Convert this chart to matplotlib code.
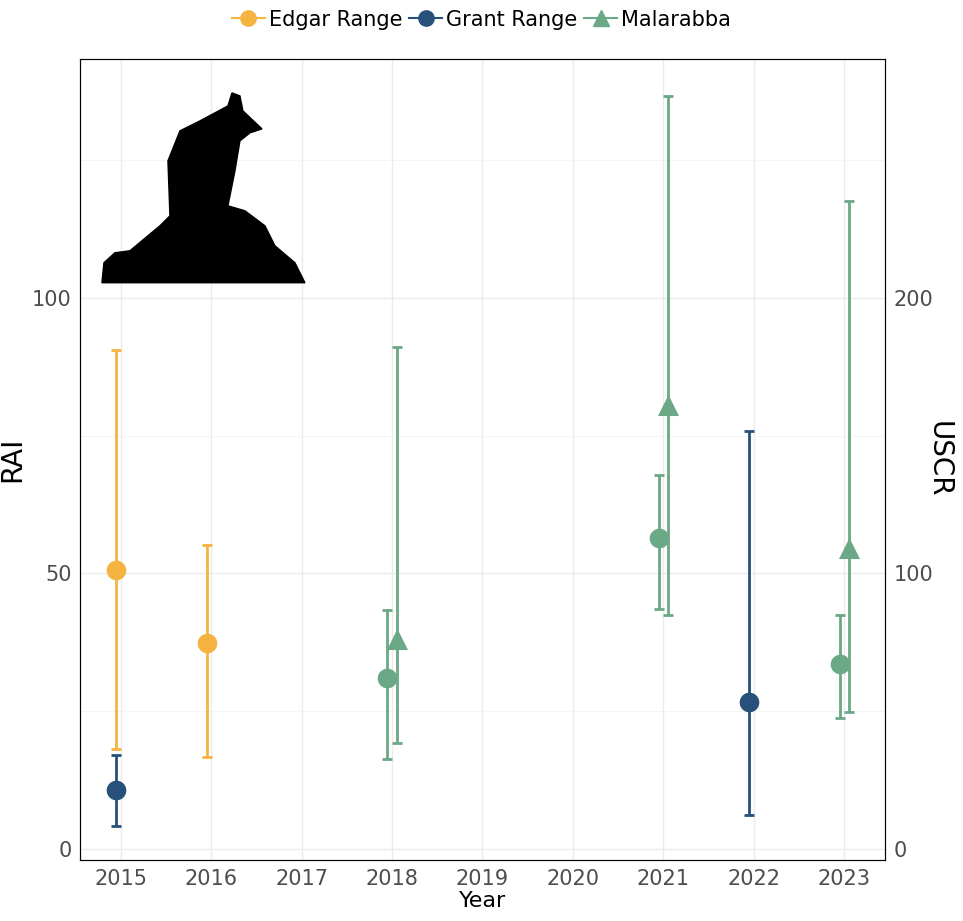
import numpy as np
import matplotlib.pyplot as plt
from matplotlib.lines import Line2D
from matplotlib.patches import Polygon

# RAI (left axis), circles
edgar_year = [2015, 2016]
edgar_rai = [50.7, 37.3]
edgar_lo = [18.1, 16.8]
edgar_hi = [90.6, 55.1]

grant_year = [2015, 2022]
grant_rai = [10.7, 26.6]
grant_lo = [4.2, 6.2]
grant_hi = [17.0, 75.9]

mal_year = [2018, 2021, 2023]
mal_rai = [31.0, 56.5, 33.5]
mal_lo = [16.3, 43.5, 23.7]
mal_hi = [43.3, 67.9, 42.4]

# USCR (right axis), triangles
mal_uscr = [76.1, 161.2, 109.1]
mal_uscr_lo = [38.4, 84.8, 49.6]
mal_uscr_hi = [182.2, 273.2, 235.1]

years = list(range(2015, 2024))
c_edgar, c_grant, c_mal = "#F5B342", "#27507A", "#6AA886"

fig = plt.figure(figsize=(9.63, 9.21), dpi=100)
ax = fig.add_axes([0.083, 0.066, 0.836, 0.87])
ax.set_xlim(2014.55, 2023.45)
ax.set_ylim(-2, 143.3)

def pts(ax, xs, v, lo, hi, col, marker, dx, scale=1.0):
    xs = np.array(xs) + dx
    v, lo, hi = np.array(v) / scale, np.array(lo) / scale, np.array(hi) / scale
    ax.errorbar(xs, v, yerr=[v - lo, hi - v], fmt="none", ecolor=col, elinewidth=2, capsize=3.5, capthick=2, zorder=3)
    ax.scatter(xs, v, s=200 if marker == "o" else 230, marker=marker, color=col, zorder=4, linewidths=0)

pts(ax, edgar_year, edgar_rai, edgar_lo, edgar_hi, c_edgar, "o", -0.05)
pts(ax, grant_year, grant_rai, grant_lo, grant_hi, c_grant, "o", -0.05)
pts(ax, mal_year, mal_rai, mal_lo, mal_hi, c_mal, "o", -0.05)
pts(ax, mal_year, mal_uscr, mal_uscr_lo, mal_uscr_hi, c_mal, "^", 0.05, scale=2.0)

ax.set_xticks(years)
ax.set_yticks([0, 50, 100])
ax.set_yticks([25, 75, 125], minor=True)
ax.grid(True, which="major", color="#EBEBEB", lw=1)
ax.grid(True, which="minor", axis="y", color="#F4F4F4", lw=0.7)
ax.set_axisbelow(True)
ax.tick_params(which="both", length=0, labelsize=15, colors="#4D4D4D", pad=6)
ax.set_xlabel("Year", fontsize=16, labelpad=2)
ax.set_ylabel("RAI", fontsize=20)
for s in ax.spines.values():
    s.set_color("#333333")

ax2 = ax.twinx()
ax2.set_ylim(-4, 286.6)
ax2.set_yticks([0, 100, 200])
ax2.tick_params(length=0, labelsize=15, colors="#4D4D4D", pad=6)
ax2.set_ylabel("USCR", fontsize=20, rotation=270, labelpad=14)

# rough silhouette (pixel outline -> axes fraction)
sil_px = [(102, 282), (104, 262), (115, 252), (130, 250), (160, 225), (170, 215), (168, 160), (180, 130),
          (200, 120), (228, 105), (232, 92), (240, 95), (243, 110), (262, 128), (250, 132), (240, 140),
          (235, 170), (228, 205), (245, 210), (265, 225), (275, 245), (295, 262), (305, 282)]
sil = [((px - 80) / 805, (860 - py) / 802) for px, py in sil_px]
ax.add_patch(Polygon(sil, closed=True, transform=ax.transAxes, color="black", zorder=5))

handles = [Line2D([], [], color=c_edgar, marker="o", ms=11, lw=1.5),
           Line2D([], [], color=c_grant, marker="o", ms=11, lw=1.5),
           Line2D([], [], color=c_mal, marker="^", ms=12, lw=1.5)]
fig.legend(handles, ["Edgar Range", "Grant Range", "Malarabba"], loc="upper center", ncol=3,
           bbox_to_anchor=(0.5, 1.01), frameon=False, fontsize=15, handlelength=1.6,
           handletextpad=0.2, columnspacing=0.3)

fig.savefig("out.png")
